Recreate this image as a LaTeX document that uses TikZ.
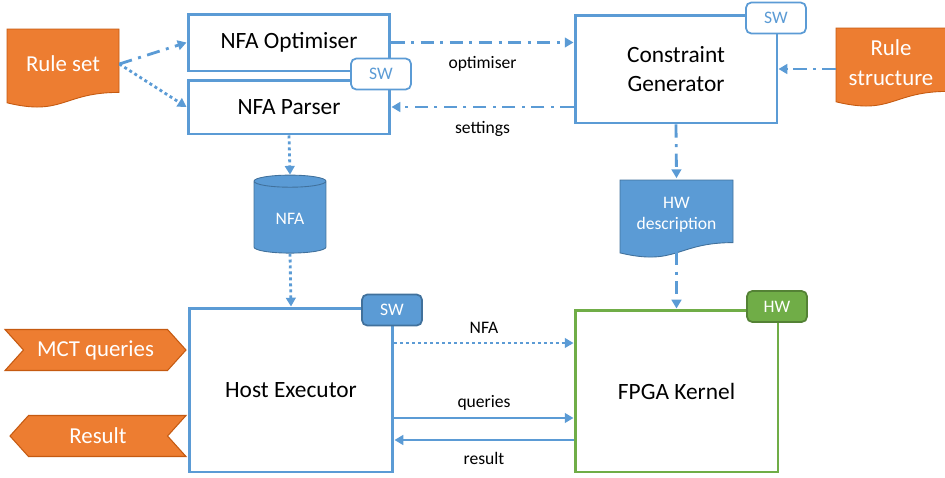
\documentclass[tikz,border=0pt]{standalone}
\usepackage{fontspec}
\setmainfont{Carlito}
\usetikzlibrary{arrows.meta,positioning,shapes.geometric,shapes.symbols}
\definecolor{swblue}{RGB}{91,155,213}
\definecolor{swdark}{RGB}{65,113,156}
\definecolor{hwgreen}{RGB}{112,173,71}
\definecolor{hwdark}{RGB}{84,130,53}
\definecolor{ruleorange}{RGB}{237,125,49}
\definecolor{ruledark}{RGB}{197,90,17}

\begin{document}
\begin{tikzpicture}[x=0.02cm,y=-0.02cm,
    box/.style={draw=swblue,line width=1.7pt,fill=white,align=center,font=\fontsize{13.3}{16}\selectfont,inner sep=0pt},
    tag/.style={draw=swblue,line width=1pt,fill=white,rounded corners=3pt,minimum width=1.2cm,minimum height=0.62cm,inner sep=0pt,font=\fontsize{10}{12}\selectfont,text=swblue},
    dashdot/.style={-{Triangle[length=5pt,width=5.5pt]},swblue,line width=1.6pt,dash pattern=on 7.5pt off 3.7pt on 1.7pt off 3.7pt},
    dotarr/.style={-{Triangle[length=5pt,width=5.5pt]},swblue,line width=1.6pt,dash pattern=on 1.7pt off 1.7pt},
    solarr/.style={-{Triangle[length=5pt,width=5.5pt]},swblue,line width=1.6pt},
    lbl/.style={font=\fontsize{10}{12}\selectfont,text=black},
    doctext/.style={align=center,text=white,inner sep=0pt},
    flag/.style={signal,signal pointer angle=96,fill=ruleorange,draw=ruledark,line width=0.6pt,text=white,font=\fontsize{13}{16}\selectfont,minimum height=0.82cm,inner sep=0pt}
]
\useasboundingbox (0,0) rectangle (945,477);

% document shapes
\filldraw[fill=ruleorange,draw=ruledark,line width=0.5pt] (7,29) -- (119,29) -- (119,92.4) .. controls (63,92.4) and (63,116.5) .. (7,102.8) -- cycle;
\filldraw[fill=ruleorange,draw=ruledark,line width=0.5pt] (836,28) -- (948,28) -- (948,91.4) .. controls (892,91.4) and (892,115.5) .. (836,101.8) -- cycle;
\filldraw[fill=swblue,draw=swdark,line width=0.5pt] (620,180) -- (733,180) -- (733,242.6) .. controls (676.5,242.6) and (676.5,266.4) .. (620,252.9) -- cycle;

\node[doctext,font=\fontsize{13}{16}\selectfont,minimum width=2.24cm,minimum height=1.3cm] (rs) at (63,64) {Rule set};
\node[doctext,font=\fontsize{13}{17}\selectfont,minimum width=2.2cm,minimum height=1.3cm] (rstruct) at (891,63) {Rule\\structure};
\node[doctext,font=\fontsize{10}{12}\selectfont,minimum width=2.26cm,minimum height=1.46cm] (hwd) at (676.5,215) {HW\\description};

% boxes
\node[box,minimum width=4.04cm,minimum height=1.14cm] (opt) at (289,42.5) {NFA Optimiser};
\node[box,minimum width=4.04cm,minimum height=1.08cm] (parser) at (289,107) {NFA Parser};
\node[box,minimum width=4.04cm,minimum height=2.16cm] (cgen) at (676,69) {Constraint\\Generator};
\node[box,minimum width=4.08cm,minimum height=3.28cm] (host) at (291,390) {Host Executor};
\node[box,draw=hwgreen,minimum width=4.06cm,minimum height=3.24cm] (fpga) at (676.5,391) {FPGA Kernel};

\node[cylinder,shape border rotate=90,aspect=0.3,minimum width=1.44cm,minimum height=1.56cm,draw=swdark,fill=swblue,text=white,line width=0.5pt,font=\fontsize{10}{12}\selectfont] (nfa) at (290,219) {NFA};

% tags
\node[tag] (tagopt) at (381,74) {SW};
\node[tag] (taggen) at (776,18) {SW};
\node[tag,fill=swblue,draw=swdark,text=white] (taghost) at (392,310) {SW};
\node[tag,fill=hwgreen,draw=hwdark,text=white] (tagfpga) at (777,306.5) {HW};

\node[flag,signal to=east,signal from=west,minimum width=3.62cm] (mct) at (95.5,350) {MCT queries};
\node[flag,signal to=west,signal from=east,minimum width=3.52cm] (res) at (98,436) {Result};

% connectors
\draw[dashdot] (rs.east) -- (opt.west);
\draw[dotarr] (rs.east) -- (parser.west);
\draw[dashdot] (opt.east) -- (opt.east -| cgen.west) node[midway,below=4pt,lbl] {optimiser};
\draw[dashdot] (parser.east -| cgen.west) -- (parser.east) node[midway,below=4pt,lbl] {settings};
\draw[dashdot] (rstruct.west |- cgen.east) -- (cgen.east);
\draw[dotarr] (parser.south) -- (nfa.north);
\draw[dotarr] (nfa.south) -- (host.north);
\draw[dashdot] (cgen.south) -- (hwd.north);
\draw[dashdot] (hwd.south) -- (fpga.north);
\draw[dotarr] ([yshift=0.94cm]host.east) -- ([yshift=0.94cm]host.east -| fpga.west) node[midway,above=1pt,lbl] {NFA};
\draw[solarr] ([yshift=-0.56cm]host.east) -- ([yshift=-0.56cm]host.east -| fpga.west) node[midway,above=0pt,lbl] {queries};
\draw[solarr] ([yshift=-1.0cm]host.east -| fpga.west) -- ([yshift=-1.0cm]host.east) node[midway,below=3pt,lbl] {result};
\end{tikzpicture}
\end{document}
